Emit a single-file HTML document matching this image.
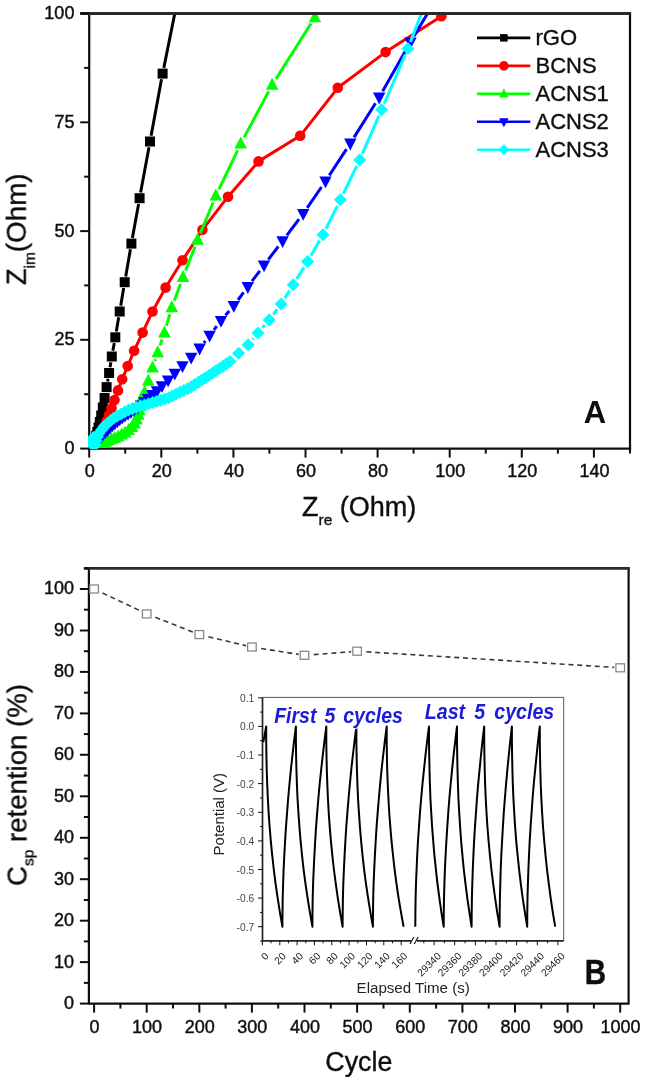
<!DOCTYPE html>
<html><head><meta charset="utf-8"><title>Figure</title>
<style>html,body{margin:0;padding:0;background:#fff}body{width:645px;height:1080px;position:relative;overflow:hidden;font-family:"Liberation Sans",sans-serif}</style>
</head><body>
<svg width="645" height="1080" viewBox="0 0 645 1080" style="position:absolute;left:0;top:0">
<defs><clipPath id="ca"><rect x="88.1" y="13.5" width="541.9" height="435.3"/></clipPath><filter id="bl" x="-5%" y="-5%" width="110%" height="110%"><feGaussianBlur stdDeviation="0.45"/></filter></defs>
<g filter="url(#bl)">
<path d="M89.2 13.5V448.6H630.0" fill="none" stroke="#111" stroke-width="2.2" stroke-linecap="square"/>
<g clip-path="url(#ca)">
<path d="M174.9 13.0L163.8 67.9M161.5 79.3L151.1 135.8M149.0 147.2L140.6 192.5M138.6 203.9L132.4 237.9M130.4 249.3L125.7 276.5M123.7 287.9L120.7 305.8M118.7 317.2L116.3 331.6M114.3 343.0L112.8 350.8M110.9 362.2L110.0 367.3M108.1 378.7L107.6 381.4" fill="none" stroke="#000000" stroke-width="3.0"/>
<rect x="157.6" y="68.6" width="10.0" height="10.0" fill="#000000"/>
<rect x="145.0" y="136.5" width="10.0" height="10.0" fill="#000000"/>
<rect x="134.6" y="193.2" width="10.0" height="10.0" fill="#000000"/>
<rect x="126.4" y="238.6" width="10.0" height="10.0" fill="#000000"/>
<rect x="119.7" y="277.2" width="10.0" height="10.0" fill="#000000"/>
<rect x="114.7" y="306.5" width="10.0" height="10.0" fill="#000000"/>
<rect x="110.3" y="332.3" width="10.0" height="10.0" fill="#000000"/>
<rect x="106.8" y="351.5" width="10.0" height="10.0" fill="#000000"/>
<rect x="104.1" y="368.0" width="10.0" height="10.0" fill="#000000"/>
<rect x="101.6" y="382.1" width="10.0" height="10.0" fill="#000000"/>
<rect x="99.6" y="393.0" width="10.0" height="10.0" fill="#000000"/>
<rect x="97.8" y="402.5" width="10.0" height="10.0" fill="#000000"/>
<rect x="96.2" y="410.5" width="10.0" height="10.0" fill="#000000"/>
<rect x="94.8" y="417.0" width="10.0" height="10.0" fill="#000000"/>
<rect x="93.5" y="422.5" width="10.0" height="10.0" fill="#000000"/>
<rect x="92.3" y="427.0" width="10.0" height="10.0" fill="#000000"/>
<rect x="91.2" y="430.8" width="10.0" height="10.0" fill="#000000"/>
<rect x="90.2" y="433.8" width="10.0" height="10.0" fill="#000000"/>
<rect x="89.3" y="436.2" width="10.0" height="10.0" fill="#000000"/>
<rect x="88.5" y="438.0" width="10.0" height="10.0" fill="#000000"/>
<rect x="87.7" y="439.5" width="10.0" height="10.0" fill="#000000"/>
<rect x="87.0" y="440.6" width="10.0" height="10.0" fill="#000000"/>
<rect x="86.3" y="441.5" width="10.0" height="10.0" fill="#000000"/>
<rect x="85.7" y="442.2" width="10.0" height="10.0" fill="#000000"/>
<polyline points="441.4,16.2 385.6,52.1 337.8,87.8 300.2,135.8 258.5,161.4 228.0,196.7 202.4,229.8 182.5,260.3 165.6,287.6 152.5,311.5 142.6,332.6 134.1,350.8 127.7,366.1 122.2,379.2 118.0,390.4 114.5,400.0 111.5,408.0 108.9,415.0 106.6,421.0 104.5,426.0 102.6,430.3 100.9,434.0 99.3,437.0 97.8,439.5 96.4,441.5 95.1,443.2 93.9,444.6 92.8,445.7 91.8,446.6 90.9,447.3" fill="none" stroke="#ff0000" stroke-width="3.0" stroke-linejoin="round"/>
<circle cx="441.4" cy="16.2" r="5.3" fill="#ff0000"/>
<circle cx="385.6" cy="52.1" r="5.3" fill="#ff0000"/>
<circle cx="337.8" cy="87.8" r="5.3" fill="#ff0000"/>
<circle cx="300.2" cy="135.8" r="5.3" fill="#ff0000"/>
<circle cx="258.5" cy="161.4" r="5.3" fill="#ff0000"/>
<circle cx="228.0" cy="196.7" r="5.3" fill="#ff0000"/>
<circle cx="202.4" cy="229.8" r="5.3" fill="#ff0000"/>
<circle cx="182.5" cy="260.3" r="5.3" fill="#ff0000"/>
<circle cx="165.6" cy="287.6" r="5.3" fill="#ff0000"/>
<circle cx="152.5" cy="311.5" r="5.3" fill="#ff0000"/>
<circle cx="142.6" cy="332.6" r="5.3" fill="#ff0000"/>
<circle cx="134.1" cy="350.8" r="5.3" fill="#ff0000"/>
<circle cx="127.7" cy="366.1" r="5.3" fill="#ff0000"/>
<circle cx="122.2" cy="379.2" r="5.3" fill="#ff0000"/>
<circle cx="118.0" cy="390.4" r="5.3" fill="#ff0000"/>
<circle cx="114.5" cy="400.0" r="5.3" fill="#ff0000"/>
<circle cx="111.5" cy="408.0" r="5.3" fill="#ff0000"/>
<circle cx="108.9" cy="415.0" r="5.3" fill="#ff0000"/>
<circle cx="106.6" cy="421.0" r="5.3" fill="#ff0000"/>
<circle cx="104.5" cy="426.0" r="5.3" fill="#ff0000"/>
<circle cx="102.6" cy="430.3" r="5.3" fill="#ff0000"/>
<circle cx="100.9" cy="434.0" r="5.3" fill="#ff0000"/>
<circle cx="99.3" cy="437.0" r="5.3" fill="#ff0000"/>
<circle cx="97.8" cy="439.5" r="5.3" fill="#ff0000"/>
<circle cx="96.4" cy="441.5" r="5.3" fill="#ff0000"/>
<circle cx="95.1" cy="443.2" r="5.3" fill="#ff0000"/>
<circle cx="93.9" cy="444.6" r="5.3" fill="#ff0000"/>
<circle cx="92.8" cy="445.7" r="5.3" fill="#ff0000"/>
<circle cx="91.8" cy="446.6" r="5.3" fill="#ff0000"/>
<circle cx="90.9" cy="447.3" r="5.3" fill="#ff0000"/>
<path d="M311.0 23.5L276.0 78.9M268.7 91.4L244.1 137.4M237.6 150.3L218.9 189.3M213.1 202.5L200.3 233.3M195.0 246.7L185.6 270.5M180.5 284.0L174.3 300.7M169.8 314.4L166.4 325.7M162.1 339.4L160.0 345.6M155.4 359.2L154.8 361.0" fill="none" stroke="#00ff00" stroke-width="3.0"/>
<path d="M314.9 10.2L321.2 22.2L308.6 22.2Z" fill="#00ff00"/>
<path d="M272.1 77.8L278.4 89.8L265.8 89.8Z" fill="#00ff00"/>
<path d="M240.7 136.6L247.0 148.6L234.4 148.6Z" fill="#00ff00"/>
<path d="M215.8 188.6L222.1 200.6L209.5 200.6Z" fill="#00ff00"/>
<path d="M197.6 232.8L203.9 244.8L191.3 244.8Z" fill="#00ff00"/>
<path d="M183.0 270.0L189.3 282.0L176.7 282.0Z" fill="#00ff00"/>
<path d="M171.8 300.3L178.1 312.3L165.5 312.3Z" fill="#00ff00"/>
<path d="M164.4 325.4L170.7 337.4L158.1 337.4Z" fill="#00ff00"/>
<path d="M157.7 345.2L164.0 357.2L151.4 357.2Z" fill="#00ff00"/>
<path d="M152.5 360.6L158.8 372.6L146.2 372.6Z" fill="#00ff00"/>
<path d="M148.3 373.7L154.6 385.7L142.0 385.7Z" fill="#00ff00"/>
<path d="M144.6 384.9L150.9 396.9L138.3 396.9Z" fill="#00ff00"/>
<path d="M143.0 388.8L149.3 400.8L136.7 400.8Z" fill="#00ff00"/>
<path d="M141.8 393.8L148.1 405.8L135.5 405.8Z" fill="#00ff00"/>
<path d="M140.6 398.6L146.9 410.6L134.3 410.6Z" fill="#00ff00"/>
<path d="M139.4 403.3L145.7 415.3L133.1 415.3Z" fill="#00ff00"/>
<path d="M138.2 407.8L144.5 419.8L131.9 419.8Z" fill="#00ff00"/>
<path d="M136.6 412.3L142.9 424.3L130.3 424.3Z" fill="#00ff00"/>
<path d="M134.5 416.4L140.8 428.4L128.2 428.4Z" fill="#00ff00"/>
<path d="M131.8 420.0L138.1 432.0L125.5 432.0Z" fill="#00ff00"/>
<path d="M128.6 423.0L134.9 435.0L122.3 435.0Z" fill="#00ff00"/>
<path d="M125.2 425.5L131.5 437.5L118.9 437.5Z" fill="#00ff00"/>
<path d="M121.7 427.6L128.0 439.6L115.4 439.6Z" fill="#00ff00"/>
<path d="M118.2 429.4L124.5 441.4L111.9 441.4Z" fill="#00ff00"/>
<path d="M114.8 430.9L121.1 442.9L108.5 442.9Z" fill="#00ff00"/>
<path d="M111.5 432.3L117.8 444.3L105.2 444.3Z" fill="#00ff00"/>
<path d="M108.4 433.6L114.7 445.6L102.1 445.6Z" fill="#00ff00"/>
<path d="M105.6 434.8L111.9 446.8L99.3 446.8Z" fill="#00ff00"/>
<path d="M103.2 435.8L109.5 447.8L96.9 447.8Z" fill="#00ff00"/>
<path d="M427.8 13.0L414.0 36.2M407.0 48.3L382.6 91.2M375.5 103.2L354.0 137.4M346.5 149.2L329.3 175.3M321.5 187.0L307.2 207.8M299.0 219.2L286.8 235.3M278.3 246.5L268.3 259.6M259.8 270.8L252.0 281.2M243.6 292.4L238.0 300.0M229.3 310.9L225.5 315.3M216.7 326.2L213.9 329.9M205.3 341.0L203.9 342.8" fill="none" stroke="#0000ff" stroke-width="3.0"/>
<path d="M410.4 49.3L416.6 37.5L404.2 37.5Z" fill="#0000ff"/>
<path d="M379.2 104.4L385.4 92.6L373.0 92.6Z" fill="#0000ff"/>
<path d="M350.3 150.4L356.5 138.6L344.1 138.6Z" fill="#0000ff"/>
<path d="M325.5 188.3L331.7 176.5L319.3 176.5Z" fill="#0000ff"/>
<path d="M303.2 220.7L309.4 208.9L297.0 208.9Z" fill="#0000ff"/>
<path d="M282.6 248.0L288.8 236.2L276.4 236.2Z" fill="#0000ff"/>
<path d="M264.0 272.3L270.2 260.5L257.8 260.5Z" fill="#0000ff"/>
<path d="M247.8 293.9L254.0 282.1L241.6 282.1Z" fill="#0000ff"/>
<path d="M233.8 312.7L240.0 300.9L227.6 300.9Z" fill="#0000ff"/>
<path d="M221.0 327.7L227.2 315.9L214.8 315.9Z" fill="#0000ff"/>
<path d="M209.6 342.6L215.8 330.8L203.4 330.8Z" fill="#0000ff"/>
<path d="M199.6 355.4L205.8 343.6L193.4 343.6Z" fill="#0000ff"/>
<path d="M191.2 364.6L197.4 352.8L185.0 352.8Z" fill="#0000ff"/>
<path d="M182.5 373.1L188.7 361.3L176.3 361.3Z" fill="#0000ff"/>
<path d="M174.8 380.6L181.0 368.8L168.6 368.8Z" fill="#0000ff"/>
<path d="M168.1 387.3L174.3 375.5L161.9 375.5Z" fill="#0000ff"/>
<path d="M161.9 393.0L168.1 381.2L155.7 381.2Z" fill="#0000ff"/>
<path d="M157.0 398.0L163.2 386.2L150.8 386.2Z" fill="#0000ff"/>
<path d="M152.5 401.9L158.7 390.1L146.3 390.1Z" fill="#0000ff"/>
<path d="M148.0 405.9L154.2 394.1L141.8 394.1Z" fill="#0000ff"/>
<path d="M144.5 409.1L150.7 397.3L138.3 397.3Z" fill="#0000ff"/>
<path d="M141.0 412.3L147.2 400.5L134.8 400.5Z" fill="#0000ff"/>
<path d="M137.5 414.7L143.7 402.9L131.3 402.9Z" fill="#0000ff"/>
<path d="M134.0 416.9L140.2 405.1L127.8 405.1Z" fill="#0000ff"/>
<path d="M131.0 418.9L137.2 407.1L124.8 407.1Z" fill="#0000ff"/>
<path d="M128.0 420.7L134.2 408.9L121.8 408.9Z" fill="#0000ff"/>
<path d="M125.0 422.6L131.2 410.8L118.8 410.8Z" fill="#0000ff"/>
<path d="M122.3 424.5L128.5 412.7L116.1 412.7Z" fill="#0000ff"/>
<path d="M119.8 426.3L126.0 414.5L113.6 414.5Z" fill="#0000ff"/>
<path d="M117.3 428.3L123.5 416.5L111.1 416.5Z" fill="#0000ff"/>
<path d="M114.8 430.4L121.0 418.6L108.6 418.6Z" fill="#0000ff"/>
<path d="M112.3 432.6L118.5 420.8L106.1 420.8Z" fill="#0000ff"/>
<path d="M109.9 434.8L116.1 423.0L103.7 423.0Z" fill="#0000ff"/>
<path d="M107.6 437.0L113.8 425.2L101.4 425.2Z" fill="#0000ff"/>
<path d="M105.4 439.1L111.6 427.3L99.2 427.3Z" fill="#0000ff"/>
<path d="M103.2 441.3L109.4 429.5L97.0 429.5Z" fill="#0000ff"/>
<path d="M101.1 443.4L107.3 431.6L94.9 431.6Z" fill="#0000ff"/>
<path d="M99.1 445.5L105.3 433.7L92.9 433.7Z" fill="#0000ff"/>
<path d="M97.2 447.5L103.4 435.7L91.0 435.7Z" fill="#0000ff"/>
<path d="M95.4 449.4L101.6 437.6L89.2 437.6Z" fill="#0000ff"/>
<path d="M93.7 451.2L99.9 439.4L87.5 439.4Z" fill="#0000ff"/>
<path d="M92.2 452.8L98.4 441.0L86.0 441.0Z" fill="#0000ff"/>
<path d="M91.0 454.1L97.2 442.3L84.8 442.3Z" fill="#0000ff"/>
<path d="M421.6 13.0L410.4 42.1M405.2 54.6L384.3 103.5M378.9 115.9L362.4 153.7M356.7 166.0L343.4 193.7M337.4 205.9L326.0 228.6M319.6 240.6L311.0 255.6M304.0 267.3L296.8 279.0M289.6 290.6L284.8 298.1M277.1 309.3L273.3 314.5M264.8 325.1L262.4 327.8M253.6 338.2L252.5 339.5" fill="none" stroke="#00ffff" stroke-width="3.0"/>
<path d="M407.9 41.9L414.4 48.4L407.9 54.9L401.4 48.4Z" fill="#00ffff"/>
<path d="M381.6 103.2L388.1 109.7L381.6 116.2L375.1 109.7Z" fill="#00ffff"/>
<path d="M359.7 153.4L366.2 159.9L359.7 166.4L353.2 159.9Z" fill="#00ffff"/>
<path d="M340.4 193.3L346.9 199.8L340.4 206.3L333.9 199.8Z" fill="#00ffff"/>
<path d="M323.0 228.2L329.5 234.7L323.0 241.2L316.5 234.7Z" fill="#00ffff"/>
<path d="M307.6 255.0L314.1 261.5L307.6 268.0L301.1 261.5Z" fill="#00ffff"/>
<path d="M293.2 278.3L299.7 284.8L293.2 291.3L286.7 284.8Z" fill="#00ffff"/>
<path d="M281.2 297.4L287.7 303.9L281.2 310.4L274.7 303.9Z" fill="#00ffff"/>
<path d="M269.2 313.4L275.7 319.9L269.2 326.4L262.7 319.9Z" fill="#00ffff"/>
<path d="M258.0 326.5L264.5 333.0L258.0 339.5L251.5 333.0Z" fill="#00ffff"/>
<path d="M248.1 338.2L254.6 344.7L248.1 351.2L241.6 344.7Z" fill="#00ffff"/>
<path d="M238.6 346.8L245.1 353.3L238.6 359.8L232.1 353.3Z" fill="#00ffff"/>
<path d="M230.0 355.0L236.5 361.5L230.0 368.0L223.5 361.5Z" fill="#00ffff"/>
<path d="M226.5 357.3L233.0 363.8L226.5 370.3L220.0 363.8Z" fill="#00ffff"/>
<path d="M223.0 359.7L229.5 366.2L223.0 372.7L216.5 366.2Z" fill="#00ffff"/>
<path d="M219.5 362.0L226.0 368.5L219.5 375.0L213.0 368.5Z" fill="#00ffff"/>
<path d="M216.0 364.3L222.5 370.8L216.0 377.3L209.5 370.8Z" fill="#00ffff"/>
<path d="M212.5 366.6L219.0 373.1L212.5 379.6L206.0 373.1Z" fill="#00ffff"/>
<path d="M209.0 369.0L215.5 375.5L209.0 382.0L202.5 375.5Z" fill="#00ffff"/>
<path d="M205.5 371.2L212.0 377.7L205.5 384.2L199.0 377.7Z" fill="#00ffff"/>
<path d="M201.9 373.5L208.4 380.0L201.9 386.5L195.4 380.0Z" fill="#00ffff"/>
<path d="M198.4 375.7L204.9 382.2L198.4 388.7L191.9 382.2Z" fill="#00ffff"/>
<path d="M194.8 378.0L201.3 384.5L194.8 391.0L188.3 384.5Z" fill="#00ffff"/>
<path d="M191.3 380.2L197.8 386.7L191.3 393.2L184.8 386.7Z" fill="#00ffff"/>
<path d="M187.6 382.2L194.1 388.7L187.6 395.2L181.1 388.7Z" fill="#00ffff"/>
<path d="M183.8 384.0L190.3 390.5L183.8 397.0L177.3 390.5Z" fill="#00ffff"/>
<path d="M180.0 385.8L186.5 392.3L180.0 398.8L173.5 392.3Z" fill="#00ffff"/>
<path d="M176.2 387.6L182.7 394.1L176.2 400.6L169.7 394.1Z" fill="#00ffff"/>
<path d="M172.4 389.4L178.9 395.9L172.4 402.4L165.9 395.9Z" fill="#00ffff"/>
<path d="M168.6 391.2L175.1 397.7L168.6 404.2L162.1 397.7Z" fill="#00ffff"/>
<path d="M164.6 392.5L171.1 399.0L164.6 405.5L158.1 399.0Z" fill="#00ffff"/>
<path d="M160.6 393.7L167.1 400.2L160.6 406.7L154.1 400.2Z" fill="#00ffff"/>
<path d="M156.6 394.9L163.1 401.4L156.6 407.9L150.1 401.4Z" fill="#00ffff"/>
<path d="M152.6 396.1L159.1 402.6L152.6 409.1L146.1 402.6Z" fill="#00ffff"/>
<path d="M148.5 397.3L155.0 403.8L148.5 410.3L142.0 403.8Z" fill="#00ffff"/>
<path d="M144.5 398.4L151.0 404.9L144.5 411.4L138.0 404.9Z" fill="#00ffff"/>
<path d="M140.5 399.6L147.0 406.1L140.5 412.6L134.0 406.1Z" fill="#00ffff"/>
<path d="M136.5 401.0L143.0 407.5L136.5 414.0L130.0 407.5Z" fill="#00ffff"/>
<path d="M132.5 402.3L139.0 408.8L132.5 415.3L126.0 408.8Z" fill="#00ffff"/>
<path d="M128.5 403.6L135.0 410.1L128.5 416.6L122.0 410.1Z" fill="#00ffff"/>
<path d="M124.7 405.4L131.2 411.9L124.7 418.4L118.2 411.9Z" fill="#00ffff"/>
<path d="M121.1 407.5L127.6 414.0L121.1 420.5L114.6 414.0Z" fill="#00ffff"/>
<path d="M117.4 409.5L123.9 416.0L117.4 422.5L110.9 416.0Z" fill="#00ffff"/>
<path d="M113.8 411.6L120.3 418.1L113.8 424.6L107.3 418.1Z" fill="#00ffff"/>
<path d="M110.5 414.2L117.0 420.7L110.5 427.2L104.0 420.7Z" fill="#00ffff"/>
<path d="M107.3 417.0L113.8 423.5L107.3 430.0L100.8 423.5Z" fill="#00ffff"/>
<path d="M104.3 419.8L110.8 426.3L104.3 432.8L97.8 426.3Z" fill="#00ffff"/>
<path d="M101.7 423.2L108.2 429.7L101.7 436.2L95.2 429.7Z" fill="#00ffff"/>
<path d="M99.2 426.5L105.7 433.0L99.2 439.5L92.7 433.0Z" fill="#00ffff"/>
<path d="M97.4 430.3L103.9 436.8L97.4 443.3L90.9 436.8Z" fill="#00ffff"/>
<path d="M95.9 434.3L102.4 440.8L95.9 447.3L89.4 440.8Z" fill="#00ffff"/>
<path d="M95.1 438.4L101.6 444.9L95.1 451.4L88.6 444.9Z" fill="#00ffff"/>
<path d="M93.3 440.3L99.8 446.8L93.3 453.3L86.8 446.8Z" fill="#00ffff"/>
<path d="M91.8 439.7L98.3 446.2L91.8 452.7L85.3 446.2Z" fill="#00ffff"/>
<path d="M90.8 438.1L97.3 444.6L90.8 451.1L84.3 444.6Z" fill="#00ffff"/>
<path d="M91.0 435.7L97.5 442.2L91.0 448.7L84.5 442.2Z" fill="#00ffff"/>
<path d="M92.0 433.5L98.5 440.0L92.0 446.5L85.5 440.0Z" fill="#00ffff"/>
<path d="M93.3 431.1L99.8 437.6L93.3 444.1L86.8 437.6Z" fill="#00ffff"/>
</g>
<path d="M630.0 448.6V13.5" fill="none" stroke="#111" stroke-width="2.2" stroke-linecap="square"/>
<line x1="80.2" y1="13.5" x2="631.1" y2="13.5" stroke="#2a2a2a" stroke-width="2.8"/>
<line x1="80.2" y1="448.6" x2="89.2" y2="448.6" stroke="#111" stroke-width="2"/>
<text transform="translate(74.4,454.0) scale(1,1.040)" font-family="Liberation Sans, sans-serif" font-size="18.0" text-anchor="end" fill="#111" stroke="#111" stroke-width="0.45">0</text>
<line x1="80.2" y1="339.8" x2="89.2" y2="339.8" stroke="#111" stroke-width="2"/>
<text transform="translate(74.4,345.2) scale(1,1.040)" font-family="Liberation Sans, sans-serif" font-size="18.0" text-anchor="end" fill="#111" stroke="#111" stroke-width="0.45">25</text>
<line x1="80.2" y1="231.1" x2="89.2" y2="231.1" stroke="#111" stroke-width="2"/>
<text transform="translate(74.4,236.5) scale(1,1.040)" font-family="Liberation Sans, sans-serif" font-size="18.0" text-anchor="end" fill="#111" stroke="#111" stroke-width="0.45">50</text>
<line x1="80.2" y1="122.3" x2="89.2" y2="122.3" stroke="#111" stroke-width="2"/>
<text transform="translate(74.4,127.7) scale(1,1.040)" font-family="Liberation Sans, sans-serif" font-size="18.0" text-anchor="end" fill="#111" stroke="#111" stroke-width="0.45">75</text>
<line x1="80.2" y1="13.5" x2="89.2" y2="13.5" stroke="#111" stroke-width="2"/>
<text transform="translate(74.4,18.9) scale(1,1.040)" font-family="Liberation Sans, sans-serif" font-size="18.0" text-anchor="end" fill="#111" stroke="#111" stroke-width="0.45">100</text>
<line x1="84.2" y1="394.2" x2="89.2" y2="394.2" stroke="#111" stroke-width="2"/>
<line x1="84.2" y1="285.4" x2="89.2" y2="285.4" stroke="#111" stroke-width="2"/>
<line x1="84.2" y1="176.7" x2="89.2" y2="176.7" stroke="#111" stroke-width="2"/>
<line x1="84.2" y1="67.9" x2="89.2" y2="67.9" stroke="#111" stroke-width="2"/>
<line x1="89.2" y1="448.6" x2="89.2" y2="457.6" stroke="#111" stroke-width="2"/>
<text transform="translate(89.7,477.4) scale(1,1.040)" font-family="Liberation Sans, sans-serif" font-size="18.0" text-anchor="middle" fill="#111" stroke="#111" stroke-width="0.45">0</text>
<line x1="161.3" y1="448.6" x2="161.3" y2="457.6" stroke="#111" stroke-width="2"/>
<text transform="translate(161.8,477.4) scale(1,1.040)" font-family="Liberation Sans, sans-serif" font-size="18.0" text-anchor="middle" fill="#111" stroke="#111" stroke-width="0.45">20</text>
<line x1="233.4" y1="448.6" x2="233.4" y2="457.6" stroke="#111" stroke-width="2"/>
<text transform="translate(233.9,477.4) scale(1,1.040)" font-family="Liberation Sans, sans-serif" font-size="18.0" text-anchor="middle" fill="#111" stroke="#111" stroke-width="0.45">40</text>
<line x1="305.5" y1="448.6" x2="305.5" y2="457.6" stroke="#111" stroke-width="2"/>
<text transform="translate(306.0,477.4) scale(1,1.040)" font-family="Liberation Sans, sans-serif" font-size="18.0" text-anchor="middle" fill="#111" stroke="#111" stroke-width="0.45">60</text>
<line x1="377.6" y1="448.6" x2="377.6" y2="457.6" stroke="#111" stroke-width="2"/>
<text transform="translate(378.1,477.4) scale(1,1.040)" font-family="Liberation Sans, sans-serif" font-size="18.0" text-anchor="middle" fill="#111" stroke="#111" stroke-width="0.45">80</text>
<line x1="449.7" y1="448.6" x2="449.7" y2="457.6" stroke="#111" stroke-width="2"/>
<text transform="translate(450.2,477.4) scale(1,1.040)" font-family="Liberation Sans, sans-serif" font-size="18.0" text-anchor="middle" fill="#111" stroke="#111" stroke-width="0.45">100</text>
<line x1="521.8" y1="448.6" x2="521.8" y2="457.6" stroke="#111" stroke-width="2"/>
<text transform="translate(522.3,477.4) scale(1,1.040)" font-family="Liberation Sans, sans-serif" font-size="18.0" text-anchor="middle" fill="#111" stroke="#111" stroke-width="0.45">120</text>
<line x1="593.9" y1="448.6" x2="593.9" y2="457.6" stroke="#111" stroke-width="2"/>
<text transform="translate(594.4,477.4) scale(1,1.040)" font-family="Liberation Sans, sans-serif" font-size="18.0" text-anchor="middle" fill="#111" stroke="#111" stroke-width="0.45">140</text>
<line x1="125.2" y1="448.6" x2="125.2" y2="453.6" stroke="#111" stroke-width="2"/>
<line x1="197.4" y1="448.6" x2="197.4" y2="453.6" stroke="#111" stroke-width="2"/>
<line x1="269.4" y1="448.6" x2="269.4" y2="453.6" stroke="#111" stroke-width="2"/>
<line x1="341.6" y1="448.6" x2="341.6" y2="453.6" stroke="#111" stroke-width="2"/>
<line x1="413.6" y1="448.6" x2="413.6" y2="453.6" stroke="#111" stroke-width="2"/>
<line x1="485.8" y1="448.6" x2="485.8" y2="453.6" stroke="#111" stroke-width="2"/>
<line x1="557.9" y1="448.6" x2="557.9" y2="453.6" stroke="#111" stroke-width="2"/>
<line x1="630.0" y1="448.6" x2="630.0" y2="453.6" stroke="#111" stroke-width="2"/>
<line x1="477" y1="37.9" x2="530.3" y2="37.9" stroke="#000000" stroke-width="2.6"/>
<rect x="500.1" y="34.1" width="7.5" height="7.5" fill="#000000"/>
<text x="535.5" y="45.4" font-family="Liberation Sans, sans-serif" font-size="22" fill="#111" stroke="#111" stroke-width="0.35">rGO</text>
<line x1="477" y1="65.9" x2="530.3" y2="65.9" stroke="#ff0000" stroke-width="2.6"/>
<circle cx="503.9" cy="65.9" r="4.8" fill="#ff0000"/>
<text x="535.5" y="73.4" font-family="Liberation Sans, sans-serif" font-size="22" fill="#111" stroke="#111" stroke-width="0.35">BCNS</text>
<line x1="477" y1="93.9" x2="530.3" y2="93.9" stroke="#00ff00" stroke-width="2.6"/>
<path d="M503.9 88.5L508.6 97.5L499.1 97.5Z" fill="#00ff00"/>
<text x="535.5" y="101.4" font-family="Liberation Sans, sans-serif" font-size="22" fill="#111" stroke="#111" stroke-width="0.35">ACNS1</text>
<line x1="477" y1="121.8" x2="530.3" y2="121.8" stroke="#0000ff" stroke-width="2.6"/>
<path d="M503.9 127.2L508.6 118.2L499.1 118.2Z" fill="#0000ff"/>
<text x="535.5" y="129.3" font-family="Liberation Sans, sans-serif" font-size="22" fill="#111" stroke="#111" stroke-width="0.35">ACNS2</text>
<line x1="477" y1="149.8" x2="530.3" y2="149.8" stroke="#00ffff" stroke-width="2.6"/>
<path d="M503.9 144.3L509.4 149.8L503.9 155.3L498.4 149.8Z" fill="#00ffff"/>
<text x="535.5" y="157.3" font-family="Liberation Sans, sans-serif" font-size="22" fill="#111" stroke="#111" stroke-width="0.35">ACNS3</text>
<text x="594.9" y="423.1" font-family="Liberation Sans, sans-serif" font-size="31" font-weight="bold" text-anchor="middle" fill="#111">A</text>
<text x="302" y="516.2" font-family="Liberation Sans, sans-serif" font-size="27" fill="#111" stroke="#111" stroke-width="0.4">Z<tspan font-size="15.5" dy="8.5">re</tspan><tspan dy="-8.5" font-size="27"> (Ohm)</tspan></text>
<text transform="translate(25.8,285) rotate(-90)" font-family="Liberation Sans, sans-serif" font-size="27" fill="#111" stroke="#111" stroke-width="0.4">Z<tspan font-size="15.5" dy="9">im</tspan><tspan dy="-9" font-size="27.8">(Ohm)</tspan></text>
<path d="M88.9 568.3V1003.6H628.6V568.3" fill="none" stroke="#111" stroke-width="2.2" stroke-linecap="square"/>
<line x1="83.9" y1="568.3" x2="629.7" y2="568.3" stroke="#2a2a2a" stroke-width="2.8"/>
<line x1="79.9" y1="1003.6" x2="88.9" y2="1003.6" stroke="#111" stroke-width="2"/>
<text transform="translate(74.1,1009.0) scale(1,1.040)" font-family="Liberation Sans, sans-serif" font-size="18.0" text-anchor="end" fill="#111" stroke="#111" stroke-width="0.45">0</text>
<line x1="79.9" y1="962.1" x2="88.9" y2="962.1" stroke="#111" stroke-width="2"/>
<text transform="translate(74.1,967.5) scale(1,1.040)" font-family="Liberation Sans, sans-serif" font-size="18.0" text-anchor="end" fill="#111" stroke="#111" stroke-width="0.45">10</text>
<line x1="79.9" y1="920.7" x2="88.9" y2="920.7" stroke="#111" stroke-width="2"/>
<text transform="translate(74.1,926.1) scale(1,1.040)" font-family="Liberation Sans, sans-serif" font-size="18.0" text-anchor="end" fill="#111" stroke="#111" stroke-width="0.45">20</text>
<line x1="79.9" y1="879.2" x2="88.9" y2="879.2" stroke="#111" stroke-width="2"/>
<text transform="translate(74.1,884.6) scale(1,1.040)" font-family="Liberation Sans, sans-serif" font-size="18.0" text-anchor="end" fill="#111" stroke="#111" stroke-width="0.45">30</text>
<line x1="79.9" y1="837.8" x2="88.9" y2="837.8" stroke="#111" stroke-width="2"/>
<text transform="translate(74.1,843.2) scale(1,1.040)" font-family="Liberation Sans, sans-serif" font-size="18.0" text-anchor="end" fill="#111" stroke="#111" stroke-width="0.45">40</text>
<line x1="79.9" y1="796.3" x2="88.9" y2="796.3" stroke="#111" stroke-width="2"/>
<text transform="translate(74.1,801.7) scale(1,1.040)" font-family="Liberation Sans, sans-serif" font-size="18.0" text-anchor="end" fill="#111" stroke="#111" stroke-width="0.45">50</text>
<line x1="79.9" y1="754.8" x2="88.9" y2="754.8" stroke="#111" stroke-width="2"/>
<text transform="translate(74.1,760.2) scale(1,1.040)" font-family="Liberation Sans, sans-serif" font-size="18.0" text-anchor="end" fill="#111" stroke="#111" stroke-width="0.45">60</text>
<line x1="79.9" y1="713.4" x2="88.9" y2="713.4" stroke="#111" stroke-width="2"/>
<text transform="translate(74.1,718.8) scale(1,1.040)" font-family="Liberation Sans, sans-serif" font-size="18.0" text-anchor="end" fill="#111" stroke="#111" stroke-width="0.45">70</text>
<line x1="79.9" y1="671.9" x2="88.9" y2="671.9" stroke="#111" stroke-width="2"/>
<text transform="translate(74.1,677.3) scale(1,1.040)" font-family="Liberation Sans, sans-serif" font-size="18.0" text-anchor="end" fill="#111" stroke="#111" stroke-width="0.45">80</text>
<line x1="79.9" y1="630.5" x2="88.9" y2="630.5" stroke="#111" stroke-width="2"/>
<text transform="translate(74.1,635.9) scale(1,1.040)" font-family="Liberation Sans, sans-serif" font-size="18.0" text-anchor="end" fill="#111" stroke="#111" stroke-width="0.45">90</text>
<line x1="79.9" y1="589.0" x2="88.9" y2="589.0" stroke="#111" stroke-width="2"/>
<text transform="translate(74.1,594.4) scale(1,1.040)" font-family="Liberation Sans, sans-serif" font-size="18.0" text-anchor="end" fill="#111" stroke="#111" stroke-width="0.45">100</text>
<line x1="83.9" y1="982.9" x2="88.9" y2="982.9" stroke="#111" stroke-width="2"/>
<line x1="83.9" y1="941.4" x2="88.9" y2="941.4" stroke="#111" stroke-width="2"/>
<line x1="83.9" y1="900.0" x2="88.9" y2="900.0" stroke="#111" stroke-width="2"/>
<line x1="83.9" y1="858.5" x2="88.9" y2="858.5" stroke="#111" stroke-width="2"/>
<line x1="83.9" y1="817.0" x2="88.9" y2="817.0" stroke="#111" stroke-width="2"/>
<line x1="83.9" y1="775.6" x2="88.9" y2="775.6" stroke="#111" stroke-width="2"/>
<line x1="83.9" y1="734.1" x2="88.9" y2="734.1" stroke="#111" stroke-width="2"/>
<line x1="83.9" y1="692.7" x2="88.9" y2="692.7" stroke="#111" stroke-width="2"/>
<line x1="83.9" y1="651.2" x2="88.9" y2="651.2" stroke="#111" stroke-width="2"/>
<line x1="83.9" y1="609.7" x2="88.9" y2="609.7" stroke="#111" stroke-width="2"/>
<line x1="83.9" y1="568.3" x2="88.9" y2="568.3" stroke="#111" stroke-width="2"/>
<line x1="94.1" y1="1003.6" x2="94.1" y2="1012.6" stroke="#111" stroke-width="2"/>
<text transform="translate(94.5,1032.7) scale(1,1.040)" font-family="Liberation Sans, sans-serif" font-size="18.0" text-anchor="middle" fill="#111" stroke="#111" stroke-width="0.45">0</text>
<line x1="146.7" y1="1003.6" x2="146.7" y2="1012.6" stroke="#111" stroke-width="2"/>
<text transform="translate(147.1,1032.7) scale(1,1.040)" font-family="Liberation Sans, sans-serif" font-size="18.0" text-anchor="middle" fill="#111" stroke="#111" stroke-width="0.45">100</text>
<line x1="199.3" y1="1003.6" x2="199.3" y2="1012.6" stroke="#111" stroke-width="2"/>
<text transform="translate(199.7,1032.7) scale(1,1.040)" font-family="Liberation Sans, sans-serif" font-size="18.0" text-anchor="middle" fill="#111" stroke="#111" stroke-width="0.45">200</text>
<line x1="251.9" y1="1003.6" x2="251.9" y2="1012.6" stroke="#111" stroke-width="2"/>
<text transform="translate(252.3,1032.7) scale(1,1.040)" font-family="Liberation Sans, sans-serif" font-size="18.0" text-anchor="middle" fill="#111" stroke="#111" stroke-width="0.45">300</text>
<line x1="304.5" y1="1003.6" x2="304.5" y2="1012.6" stroke="#111" stroke-width="2"/>
<text transform="translate(304.9,1032.7) scale(1,1.040)" font-family="Liberation Sans, sans-serif" font-size="18.0" text-anchor="middle" fill="#111" stroke="#111" stroke-width="0.45">400</text>
<line x1="357.1" y1="1003.6" x2="357.1" y2="1012.6" stroke="#111" stroke-width="2"/>
<text transform="translate(357.5,1032.7) scale(1,1.040)" font-family="Liberation Sans, sans-serif" font-size="18.0" text-anchor="middle" fill="#111" stroke="#111" stroke-width="0.45">500</text>
<line x1="409.8" y1="1003.6" x2="409.8" y2="1012.6" stroke="#111" stroke-width="2"/>
<text transform="translate(410.2,1032.7) scale(1,1.040)" font-family="Liberation Sans, sans-serif" font-size="18.0" text-anchor="middle" fill="#111" stroke="#111" stroke-width="0.45">600</text>
<line x1="462.4" y1="1003.6" x2="462.4" y2="1012.6" stroke="#111" stroke-width="2"/>
<text transform="translate(462.8,1032.7) scale(1,1.040)" font-family="Liberation Sans, sans-serif" font-size="18.0" text-anchor="middle" fill="#111" stroke="#111" stroke-width="0.45">700</text>
<line x1="515.0" y1="1003.6" x2="515.0" y2="1012.6" stroke="#111" stroke-width="2"/>
<text transform="translate(515.4,1032.7) scale(1,1.040)" font-family="Liberation Sans, sans-serif" font-size="18.0" text-anchor="middle" fill="#111" stroke="#111" stroke-width="0.45">800</text>
<line x1="567.6" y1="1003.6" x2="567.6" y2="1012.6" stroke="#111" stroke-width="2"/>
<text transform="translate(568.0,1032.7) scale(1,1.040)" font-family="Liberation Sans, sans-serif" font-size="18.0" text-anchor="middle" fill="#111" stroke="#111" stroke-width="0.45">900</text>
<line x1="620.2" y1="1003.6" x2="620.2" y2="1012.6" stroke="#111" stroke-width="2"/>
<text transform="translate(620.6,1032.7) scale(1,1.040)" font-family="Liberation Sans, sans-serif" font-size="18.0" text-anchor="middle" fill="#111" stroke="#111" stroke-width="0.45">1000</text>
<line x1="120.4" y1="1003.6" x2="120.4" y2="1008.6" stroke="#111" stroke-width="2"/>
<line x1="173.0" y1="1003.6" x2="173.0" y2="1008.6" stroke="#111" stroke-width="2"/>
<line x1="225.6" y1="1003.6" x2="225.6" y2="1008.6" stroke="#111" stroke-width="2"/>
<line x1="278.2" y1="1003.6" x2="278.2" y2="1008.6" stroke="#111" stroke-width="2"/>
<line x1="330.8" y1="1003.6" x2="330.8" y2="1008.6" stroke="#111" stroke-width="2"/>
<line x1="383.5" y1="1003.6" x2="383.5" y2="1008.6" stroke="#111" stroke-width="2"/>
<line x1="436.1" y1="1003.6" x2="436.1" y2="1008.6" stroke="#111" stroke-width="2"/>
<line x1="488.7" y1="1003.6" x2="488.7" y2="1008.6" stroke="#111" stroke-width="2"/>
<line x1="541.3" y1="1003.6" x2="541.3" y2="1008.6" stroke="#111" stroke-width="2"/>
<line x1="593.9" y1="1003.6" x2="593.9" y2="1008.6" stroke="#111" stroke-width="2"/>
<line x1="99.5" y1="591.6" x2="141.3" y2="611.3" stroke="#383838" stroke-width="1.6" stroke-dasharray="5,3.8" stroke-dashoffset="5.5"/>
<line x1="152.3" y1="616.1" x2="193.7" y2="632.4" stroke="#383838" stroke-width="1.6" stroke-dasharray="5,3.8" stroke-dashoffset="5.5"/>
<line x1="205.2" y1="636.0" x2="246.1" y2="645.7" stroke="#383838" stroke-width="1.6" stroke-dasharray="5,3.8" stroke-dashoffset="5.5"/>
<line x1="257.9" y1="648.0" x2="298.6" y2="654.4" stroke="#383838" stroke-width="1.6" stroke-dasharray="5,3.8" stroke-dashoffset="5.5"/>
<line x1="310.5" y1="654.9" x2="351.2" y2="651.7" stroke="#383838" stroke-width="1.6" stroke-dasharray="5,3.8" stroke-dashoffset="5.5"/>
<line x1="363.1" y1="651.6" x2="614.2" y2="667.4" stroke="#383838" stroke-width="1.6" stroke-dasharray="5,3.8" stroke-dashoffset="5.5"/>
<rect x="89.8" y="585.0" width="8.6" height="8" fill="#fff" stroke="#858585" stroke-width="1.25"/>
<rect x="142.4" y="609.9" width="8.6" height="8" fill="#fff" stroke="#858585" stroke-width="1.25"/>
<rect x="195.0" y="630.6" width="8.6" height="8" fill="#fff" stroke="#858585" stroke-width="1.25"/>
<rect x="247.6" y="643.0" width="8.6" height="8" fill="#fff" stroke="#858585" stroke-width="1.25"/>
<rect x="300.2" y="651.3" width="8.6" height="8" fill="#fff" stroke="#858585" stroke-width="1.25"/>
<rect x="352.8" y="647.2" width="8.6" height="8" fill="#fff" stroke="#858585" stroke-width="1.25"/>
<rect x="615.9" y="663.8" width="8.6" height="8" fill="#fff" stroke="#858585" stroke-width="1.25"/>
<text x="595.3" y="983.8" font-family="Liberation Sans, sans-serif" font-size="34.7" font-weight="bold" text-anchor="middle" fill="#111" stroke="#111" stroke-width="0.5" transform="translate(595.3,0) scale(0.85,1) translate(-595.3,0)">B</text>
<text x="358.8" y="1070.6" font-family="Liberation Sans, sans-serif" font-size="26.8" text-anchor="middle" fill="#111" stroke="#111" stroke-width="0.4">Cycle</text>
<text transform="translate(26.5,886) rotate(-90)" font-family="Liberation Sans, sans-serif" font-size="27.6" fill="#111" stroke="#111" stroke-width="0.4">C<tspan font-size="15.5" dy="7">sp</tspan><tspan dy="-7" font-size="27.6"> retention (%)</tspan></text>
<rect x="227.5" y="694.4" width="341.2" height="305.4" fill="#fff" stroke="none"/>
<path d="M262.5 697.4H563.7V940.8" fill="none" stroke="#555" stroke-width="1"/>
<path d="M262.5 697.4V940.8H411.3 M417.0 940.8H563.7" fill="none" stroke="#222" stroke-width="1.7"/>
<path d="M410.0 944.0L413.9 936.9M414.3 944.0L418.2 936.9" stroke="#111" stroke-width="1.1" fill="none"/>
<line x1="258.0" y1="697.8" x2="262.5" y2="697.8" stroke="#111" stroke-width="1"/>
<text transform="translate(254.2,701.8) scale(1,1.1)" font-family="Liberation Sans, sans-serif" font-size="10.2" text-anchor="end" fill="#444">0.1</text>
<line x1="258.0" y1="726.4" x2="262.5" y2="726.4" stroke="#111" stroke-width="1"/>
<text transform="translate(254.2,730.4) scale(1,1.1)" font-family="Liberation Sans, sans-serif" font-size="10.2" text-anchor="end" fill="#444">0.0</text>
<line x1="258.0" y1="755.0" x2="262.5" y2="755.0" stroke="#111" stroke-width="1"/>
<text transform="translate(254.2,759.0) scale(1,1.1)" font-family="Liberation Sans, sans-serif" font-size="10.2" text-anchor="end" fill="#444">-0.1</text>
<line x1="258.0" y1="783.6" x2="262.5" y2="783.6" stroke="#111" stroke-width="1"/>
<text transform="translate(254.2,787.6) scale(1,1.1)" font-family="Liberation Sans, sans-serif" font-size="10.2" text-anchor="end" fill="#444">-0.2</text>
<line x1="258.0" y1="812.3" x2="262.5" y2="812.3" stroke="#111" stroke-width="1"/>
<text transform="translate(254.2,816.3) scale(1,1.1)" font-family="Liberation Sans, sans-serif" font-size="10.2" text-anchor="end" fill="#444">-0.3</text>
<line x1="258.0" y1="840.9" x2="262.5" y2="840.9" stroke="#111" stroke-width="1"/>
<text transform="translate(254.2,844.9) scale(1,1.1)" font-family="Liberation Sans, sans-serif" font-size="10.2" text-anchor="end" fill="#444">-0.4</text>
<line x1="258.0" y1="869.5" x2="262.5" y2="869.5" stroke="#111" stroke-width="1"/>
<text transform="translate(254.2,873.5) scale(1,1.1)" font-family="Liberation Sans, sans-serif" font-size="10.2" text-anchor="end" fill="#444">-0.5</text>
<line x1="258.0" y1="898.1" x2="262.5" y2="898.1" stroke="#111" stroke-width="1"/>
<text transform="translate(254.2,902.1) scale(1,1.1)" font-family="Liberation Sans, sans-serif" font-size="10.2" text-anchor="end" fill="#444">-0.6</text>
<line x1="258.0" y1="926.7" x2="262.5" y2="926.7" stroke="#111" stroke-width="1"/>
<text transform="translate(254.2,930.7) scale(1,1.1)" font-family="Liberation Sans, sans-serif" font-size="10.2" text-anchor="end" fill="#444">-0.7</text>
<line x1="260.0" y1="712.1" x2="262.5" y2="712.1" stroke="#111" stroke-width="1"/>
<line x1="260.0" y1="740.7" x2="262.5" y2="740.7" stroke="#111" stroke-width="1"/>
<line x1="260.0" y1="769.3" x2="262.5" y2="769.3" stroke="#111" stroke-width="1"/>
<line x1="260.0" y1="797.9" x2="262.5" y2="797.9" stroke="#111" stroke-width="1"/>
<line x1="260.0" y1="826.6" x2="262.5" y2="826.6" stroke="#111" stroke-width="1"/>
<line x1="260.0" y1="855.2" x2="262.5" y2="855.2" stroke="#111" stroke-width="1"/>
<line x1="260.0" y1="883.8" x2="262.5" y2="883.8" stroke="#111" stroke-width="1"/>
<line x1="260.0" y1="912.4" x2="262.5" y2="912.4" stroke="#111" stroke-width="1"/>
<line x1="260.0" y1="941.0" x2="262.5" y2="941.0" stroke="#111" stroke-width="1"/>
<line x1="262.4" y1="940.8" x2="262.4" y2="945.3" stroke="#111" stroke-width="1"/>
<text transform="translate(269.2,956.8) rotate(-45)" font-family="Liberation Sans, sans-serif" font-size="10.3" text-anchor="end" fill="#222">0</text>
<line x1="279.8" y1="940.8" x2="279.8" y2="945.3" stroke="#111" stroke-width="1"/>
<text transform="translate(286.6,956.8) rotate(-45)" font-family="Liberation Sans, sans-serif" font-size="10.3" text-anchor="end" fill="#222">20</text>
<line x1="297.1" y1="940.8" x2="297.1" y2="945.3" stroke="#111" stroke-width="1"/>
<text transform="translate(303.9,956.8) rotate(-45)" font-family="Liberation Sans, sans-serif" font-size="10.3" text-anchor="end" fill="#222">40</text>
<line x1="314.4" y1="940.8" x2="314.4" y2="945.3" stroke="#111" stroke-width="1"/>
<text transform="translate(321.2,956.8) rotate(-45)" font-family="Liberation Sans, sans-serif" font-size="10.3" text-anchor="end" fill="#222">60</text>
<line x1="331.8" y1="940.8" x2="331.8" y2="945.3" stroke="#111" stroke-width="1"/>
<text transform="translate(338.6,956.8) rotate(-45)" font-family="Liberation Sans, sans-serif" font-size="10.3" text-anchor="end" fill="#222">80</text>
<line x1="349.1" y1="940.8" x2="349.1" y2="945.3" stroke="#111" stroke-width="1"/>
<text transform="translate(355.9,956.8) rotate(-45)" font-family="Liberation Sans, sans-serif" font-size="10.3" text-anchor="end" fill="#222">100</text>
<line x1="366.5" y1="940.8" x2="366.5" y2="945.3" stroke="#111" stroke-width="1"/>
<text transform="translate(373.3,956.8) rotate(-45)" font-family="Liberation Sans, sans-serif" font-size="10.3" text-anchor="end" fill="#222">120</text>
<line x1="383.8" y1="940.8" x2="383.8" y2="945.3" stroke="#111" stroke-width="1"/>
<text transform="translate(390.6,956.8) rotate(-45)" font-family="Liberation Sans, sans-serif" font-size="10.3" text-anchor="end" fill="#222">140</text>
<line x1="401.2" y1="940.8" x2="401.2" y2="945.3" stroke="#111" stroke-width="1"/>
<text transform="translate(408.0,956.8) rotate(-45)" font-family="Liberation Sans, sans-serif" font-size="10.3" text-anchor="end" fill="#222">160</text>
<line x1="271.1" y1="940.8" x2="271.1" y2="943.3" stroke="#111" stroke-width="1"/>
<line x1="288.4" y1="940.8" x2="288.4" y2="943.3" stroke="#111" stroke-width="1"/>
<line x1="305.8" y1="940.8" x2="305.8" y2="943.3" stroke="#111" stroke-width="1"/>
<line x1="323.1" y1="940.8" x2="323.1" y2="943.3" stroke="#111" stroke-width="1"/>
<line x1="340.5" y1="940.8" x2="340.5" y2="943.3" stroke="#111" stroke-width="1"/>
<line x1="357.8" y1="940.8" x2="357.8" y2="943.3" stroke="#111" stroke-width="1"/>
<line x1="375.2" y1="940.8" x2="375.2" y2="943.3" stroke="#111" stroke-width="1"/>
<line x1="392.5" y1="940.8" x2="392.5" y2="943.3" stroke="#111" stroke-width="1"/>
<line x1="434.1" y1="940.8" x2="434.1" y2="945.3" stroke="#111" stroke-width="1"/>
<text transform="translate(441.7,956.8) rotate(-45)" font-family="Liberation Sans, sans-serif" font-size="10.3" text-anchor="end" fill="#222">29340</text>
<line x1="454.7" y1="940.8" x2="454.7" y2="945.3" stroke="#111" stroke-width="1"/>
<text transform="translate(462.3,956.8) rotate(-45)" font-family="Liberation Sans, sans-serif" font-size="10.3" text-anchor="end" fill="#222">29360</text>
<line x1="475.4" y1="940.8" x2="475.4" y2="945.3" stroke="#111" stroke-width="1"/>
<text transform="translate(483.0,956.8) rotate(-45)" font-family="Liberation Sans, sans-serif" font-size="10.3" text-anchor="end" fill="#222">29380</text>
<line x1="496.0" y1="940.8" x2="496.0" y2="945.3" stroke="#111" stroke-width="1"/>
<text transform="translate(503.6,956.8) rotate(-45)" font-family="Liberation Sans, sans-serif" font-size="10.3" text-anchor="end" fill="#222">29400</text>
<line x1="516.6" y1="940.8" x2="516.6" y2="945.3" stroke="#111" stroke-width="1"/>
<text transform="translate(524.2,956.8) rotate(-45)" font-family="Liberation Sans, sans-serif" font-size="10.3" text-anchor="end" fill="#222">29420</text>
<line x1="537.3" y1="940.8" x2="537.3" y2="945.3" stroke="#111" stroke-width="1"/>
<text transform="translate(544.9,956.8) rotate(-45)" font-family="Liberation Sans, sans-serif" font-size="10.3" text-anchor="end" fill="#222">29440</text>
<line x1="557.9" y1="940.8" x2="557.9" y2="945.3" stroke="#111" stroke-width="1"/>
<text transform="translate(565.5,956.8) rotate(-45)" font-family="Liberation Sans, sans-serif" font-size="10.3" text-anchor="end" fill="#222">29460</text>
<line x1="423.8" y1="940.8" x2="423.8" y2="943.3" stroke="#111" stroke-width="1"/>
<line x1="444.4" y1="940.8" x2="444.4" y2="943.3" stroke="#111" stroke-width="1"/>
<line x1="465.1" y1="940.8" x2="465.1" y2="943.3" stroke="#111" stroke-width="1"/>
<line x1="485.7" y1="940.8" x2="485.7" y2="943.3" stroke="#111" stroke-width="1"/>
<line x1="506.3" y1="940.8" x2="506.3" y2="943.3" stroke="#111" stroke-width="1"/>
<line x1="527.0" y1="940.8" x2="527.0" y2="943.3" stroke="#111" stroke-width="1"/>
<line x1="547.6" y1="940.8" x2="547.6" y2="943.3" stroke="#111" stroke-width="1"/>
<polyline points="263.3,742.1 264.6,735.0 266.2,726.4 266.2,740.7 266.4,755.0 266.7,769.3 267.2,783.6 267.8,798.0 268.6,812.3 269.6,826.6 270.8,840.9 272.2,855.2 273.8,869.5 275.6,883.8 277.7,898.1 279.9,912.4 282.4,926.7 282.5,912.4 282.7,898.1 283.1,883.8 283.6,869.5 284.3,855.2 285.1,840.9 286.0,826.6 287.1,812.3 288.2,798.0 289.5,783.6 290.9,769.3 292.5,755.0 294.1,740.7 295.9,726.4 295.9,740.7 296.1,755.0 296.4,769.3 296.9,783.6 297.5,798.0 298.4,812.3 299.4,826.6 300.6,840.9 302.0,855.2 303.6,869.5 305.5,883.8 307.6,898.1 309.9,912.4 312.4,926.7 312.5,912.4 312.7,898.1 313.1,883.8 313.7,869.5 314.4,855.2 315.2,840.9 316.1,826.6 317.2,812.3 318.4,798.0 319.7,783.6 321.2,769.3 322.8,755.0 324.5,740.7 326.3,726.4 326.3,740.7 326.5,755.0 326.8,769.3 327.3,783.6 327.9,798.0 328.7,812.3 329.7,826.6 330.9,840.9 332.3,855.2 333.9,869.5 335.8,883.8 337.8,898.1 340.1,912.4 342.6,926.7 342.7,912.4 342.9,898.1 343.3,883.8 343.9,869.5 344.6,855.2 345.4,840.9 346.3,826.6 347.4,812.3 348.6,798.0 349.9,783.6 351.3,769.3 352.9,755.0 354.6,740.7 356.4,726.4 356.4,740.7 356.6,755.0 356.9,769.3 357.4,783.6 358.0,798.0 358.9,812.3 359.9,826.6 361.1,840.9 362.5,855.2 364.1,869.5 366.0,883.8 368.1,898.1 370.4,912.4 372.9,926.7 373.0,912.4 373.2,898.1 373.6,883.8 374.2,869.5 374.9,855.2 375.7,840.9 376.6,826.6 377.7,812.3 378.9,798.0 380.2,783.6 381.6,769.3 383.2,755.0 384.9,740.7 386.7,726.4 386.7,740.7 386.9,755.0 387.2,769.3 387.7,783.6 388.4,798.0 389.2,812.3 390.3,826.6 391.5,840.9 393.0,855.2 394.6,869.5 396.5,883.8 398.6,898.1 401.0,912.4 403.6,926.7" fill="none" stroke="#000" stroke-width="2.0" stroke-linejoin="round"/>
<polyline points="415.3,926.7 415.4,912.4 415.6,898.1 416.0,883.8 416.6,869.5 417.2,855.2 418.0,840.9 419.0,826.6 420.0,812.3 421.2,798.0 422.5,783.6 424.0,769.3 425.5,755.0 427.2,740.7 429.0,726.4 429.0,740.7 429.2,755.0 429.5,769.3 429.9,783.6 430.4,798.0 431.2,812.3 432.1,826.6 433.2,840.9 434.4,855.2 435.9,869.5 437.5,883.8 439.4,898.1 441.4,912.4 443.7,926.7 443.8,912.4 444.0,898.1 444.4,883.8 444.9,869.5 445.6,855.2 446.4,840.9 447.3,826.6 448.3,812.3 449.4,798.0 450.7,783.6 452.1,769.3 453.6,755.0 455.3,740.7 457.0,726.4 457.0,740.7 457.2,755.0 457.5,769.3 457.9,783.6 458.4,798.0 459.2,812.3 460.1,826.6 461.1,840.9 462.4,855.2 463.8,869.5 465.5,883.8 467.3,898.1 469.4,912.4 471.6,926.7 471.7,912.4 471.9,898.1 472.3,883.8 472.8,869.5 473.4,855.2 474.1,840.9 475.0,826.6 476.0,812.3 477.0,798.0 478.2,783.6 479.6,769.3 481.0,755.0 482.5,740.7 484.2,726.4 484.2,740.7 484.4,755.0 484.7,769.3 485.1,783.6 485.7,798.0 486.5,812.3 487.4,826.6 488.6,840.9 489.9,855.2 491.4,869.5 493.2,883.8 495.1,898.1 497.2,912.4 499.6,926.7 499.7,912.4 499.9,898.1 500.3,883.8 500.7,869.5 501.3,855.2 502.1,840.9 502.9,826.6 503.8,812.3 504.9,798.0 506.1,783.6 507.4,769.3 508.8,755.0 510.3,740.7 511.9,726.4 511.9,740.7 512.1,755.0 512.4,769.3 512.8,783.6 513.4,798.0 514.2,812.3 515.1,826.6 516.2,840.9 517.6,855.2 519.1,869.5 520.8,883.8 522.7,898.1 524.9,912.4 527.2,926.7 527.3,912.4 527.5,898.1 527.9,883.8 528.4,869.5 529.0,855.2 529.7,840.9 530.6,826.6 531.6,812.3 532.6,798.0 533.8,783.6 535.2,769.3 536.6,755.0 538.1,740.7 539.8,726.4 539.8,740.7 540.0,755.0 540.3,769.3 540.7,783.6 541.3,798.0 542.1,812.3 543.0,826.6 544.2,840.9 545.5,855.2 547.0,869.5 548.8,883.8 550.7,898.1 552.8,912.4 555.2,926.7" fill="none" stroke="#000" stroke-width="2.0" stroke-linejoin="round"/>
<text transform="translate(274.2,722.6) scale(0.908,1)" font-family="Liberation Sans, sans-serif" font-size="21.5" font-weight="bold" font-style="italic" fill="#1c1cd8" stroke="#fff" stroke-width="2.5" stroke-opacity="0.8" paint-order="stroke" word-spacing="2.8">First 5 cycles</text>
<text transform="translate(424.8,719.2) scale(0.913,1)" font-family="Liberation Sans, sans-serif" font-size="21.5" font-weight="bold" font-style="italic" fill="#1c1cd8" stroke="#fff" stroke-width="2.5" stroke-opacity="0.8" paint-order="stroke" word-spacing="4">Last 5 cycles</text>
<text transform="translate(223.6,814.2) rotate(-90)" font-family="Liberation Sans, sans-serif" font-size="15" text-anchor="middle" fill="#222">Potential (V)</text>
<text x="413.2" y="993.2" font-family="Liberation Sans, sans-serif" font-size="15.1" text-anchor="middle" fill="#222">Elapsed Time (s)</text>
</g>
</svg>
</body></html>
